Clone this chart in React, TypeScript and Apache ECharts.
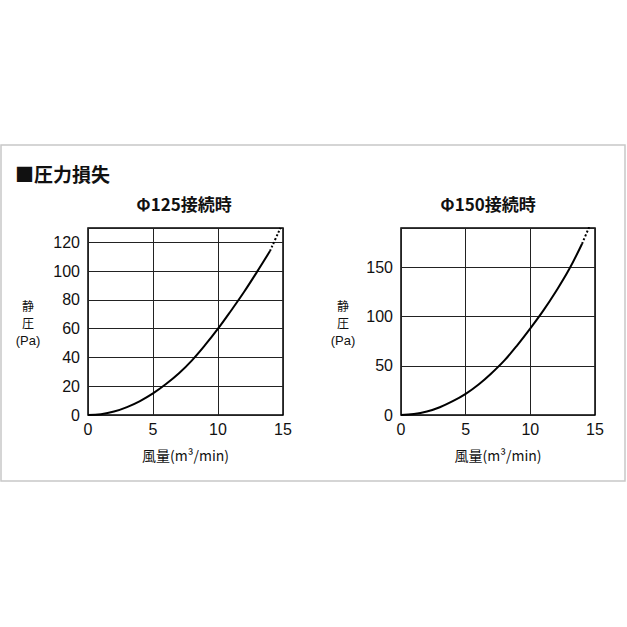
import { useEffect, useRef } from 'react';
import * as echarts from 'echarts';

// Φ125 connection: airflow (m³/min) vs static pressure (Pa)
const flow125 = [0, 1, 2, 3, 4, 5, 6, 7, 8, 9, 10, 11, 12, 13, 14];
const pressure125 = [0, 0.6, 2.4, 5.5, 9.7, 15, 21.5, 29, 38, 48.5, 60, 72.5, 85.5, 99.5, 114];
const extFlow125 = [14, 14.8];
const extPressure125 = [114, 130];

// Φ150 connection
const flow150 = [0, 1, 2, 3, 4, 5, 6, 7, 8, 9, 10, 11, 12, 13, 14];
const pressure150 = [0, 0.9, 3.5, 7.9, 14, 21.5, 31, 42.5, 55.5, 71, 88, 106, 126, 148, 174];
const extFlow150 = [14, 14.55];
const extPressure150 = [174, 191];

// y-axis name, one line per entry
const yNameLines = ['静', '圧', '(Pa)'];

const pairs = (xs: number[], ys: number[]) => xs.map((x, i) => [x, ys[i]]);

const CJK = '"Noto Sans CJK JP", "Liberation Sans", sans-serif';
const LATIN = '"Liberation Sans", Arial, sans-serif';
const INK = '#111';

function xAxisCfg(gridIndex: number) {
  return {
    type: 'value' as const,
    gridIndex,
    min: 0,
    max: 15,
    interval: 5,
    name: '風量(m³/min)',
    nameLocation: 'middle' as const,
    nameGap: 33,
    nameTextStyle: { fontFamily: CJK, fontSize: 14, color: INK },
    axisLine: { show: false },
    axisTick: { show: false },
    axisLabel: { fontFamily: LATIN, fontSize: 16, color: INK, margin: 6 },
    splitLine: { lineStyle: { color: '#222', width: 1 } },
  };
}

function yAxisCfg(gridIndex: number, max: number, interval: number) {
  return {
    type: 'value' as const,
    gridIndex,
    min: 0,
    max,
    interval,
    axisLine: { show: false },
    axisTick: { show: false },
    axisLabel: { fontFamily: LATIN, fontSize: 16, color: INK, margin: 8, showMaxLabel: false },
    splitLine: { lineStyle: { color: '#222', width: 1 } },
  };
}

function curve(xAxisIndex: number, data: number[][], dotted: boolean) {
  return {
    type: 'line' as const,
    xAxisIndex,
    yAxisIndex: xAxisIndex,
    data,
    smooth: 0.4,
    showSymbol: false,
    silent: true,
    lineStyle: { color: '#000', width: 2, type: dotted ? ('dotted' as const) : ('solid' as const) },
  };
}

function yName(cx: number) {
  return yNameLines.map((t, i) => ({
    type: 'text' as const,
    x: cx,
    y: 305 + i * 17.5,
    style: {
      text: t,
      font: i === 2 ? `13px ${LATIN}` : `12px ${CJK}`,
      fill: INK,
      textAlign: 'center',
      textVerticalAlign: 'middle',
    },
  }));
}

export default function App() {
  const ref = useRef<HTMLDivElement | null>(null);

  useEffect(() => {
    if (!ref.current) return;
    const chart = echarts.init(ref.current, null, { renderer: 'svg' });
    chart.setOption({
      animation: false,
      backgroundColor: '#fff',
      grid: [
        { left: 88, top: 228, width: 195, height: 187, show: true, borderColor: '#000', borderWidth: 1.5 },
        { left: 401, top: 228, width: 194, height: 187, show: true, borderColor: '#000', borderWidth: 1.5 },
      ],
      xAxis: [xAxisCfg(0), xAxisCfg(1)],
      yAxis: [yAxisCfg(0, 130, 20), yAxisCfg(1, 190, 50)],
      series: [
        curve(0, pairs(flow125, pressure125), false),
        curve(0, pairs(extFlow125, extPressure125), true),
        curve(1, pairs(flow150, pressure150), false),
        curve(1, pairs(extFlow150, extPressure150), true),
      ],
      graphic: [
        {
          type: 'rect',
          shape: { x: 1, y: 145, width: 624, height: 336 },
          style: { fill: 'none', stroke: '#c8c8c8', lineWidth: 1.5 },
          silent: true,
        },
        {
          type: 'text',
          x: 15,
          y: 173,
          style: { text: '■圧力損失', font: `bold 19px ${CJK}`, fill: INK, textVerticalAlign: 'middle' },
        },
        {
          type: 'text',
          x: 184,
          y: 203,
          style: { text: 'Φ125接続時', font: `bold 17px ${CJK}`, fill: INK, textAlign: 'center', textVerticalAlign: 'middle' },
        },
        {
          type: 'text',
          x: 488,
          y: 203,
          style: { text: 'Φ150接続時', font: `bold 17px ${CJK}`, fill: INK, textAlign: 'center', textVerticalAlign: 'middle' },
        },
        ...yName(28),
        ...yName(343),
      ],
    });
    return () => chart.dispose();
  }, []);

  return <div ref={ref} style={{ position: 'fixed', left: 0, top: 0, width: 627, height: 627 }} />;
}
